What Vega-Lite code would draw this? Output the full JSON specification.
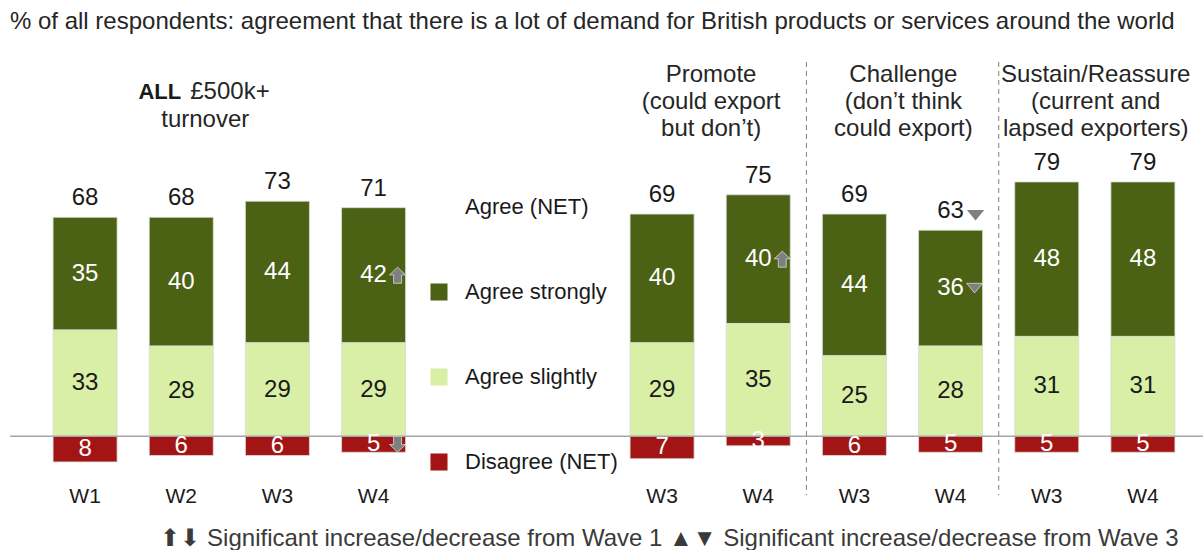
{
  "$schema": "https://vega.github.io/schema/vega-lite/v6.json",
  "width": 1154,
  "height": 428,
  "padding": {"left": 37, "top": 50, "right": 12, "bottom": 72},
  "autosize": {"type": "none"},
  "background": "white",
  "title": {
    "text": "% of all respondents: agreement that there is a lot of demand for British products or services around the world",
    "anchor": "start",
    "frame": "group",
    "dx": -27,
    "offset": -3,
    "baseline": "alphabetic",
    "fontSize": 24,
    "fontWeight": "normal",
    "font": "Liberation Sans",
    "color": "#262626"
  },
  "config": {
    "view": {"stroke": null},
    "font": "Liberation Sans",
    "text": {"font": "Liberation Sans"},
    "axisX": {
      "orient": "bottom",
      "title": "⬆⬇ Significant increase/decrease  from Wave 1  ▲▼ Significant increase/decrease  from Wave 3",
      "labelExpr": "indexof(datum.value, 'gap') >= 0 ? '' : slice(datum.value, -2)",
      "domain": false,
      "ticks": false,
      "grid": false,
      "labelAngle": 0,
      "labelFontSize": 21,
      "labelFont": "Liberation Sans",
      "labelColor": "#1a1a1a",
      "labelPadding": 7,
      "titleFont": "Liberation Sans",
      "titleFontSize": 24,
      "titleFontWeight": "normal",
      "titleColor": "#3a3a3a",
      "titleX": 632,
      "titleY": 60,
      "titleAlign": "center",
      "titleBaseline": "middle"
    }
  },
  "datasets": {
    "bars": [
      {"slot": "ALL W1", "category": "Agree strongly", "value": 35, "net": 68},
      {"slot": "ALL W1", "category": "Agree slightly", "value": 33},
      {"slot": "ALL W1", "category": "Disagree (NET)", "value": -8},
      {"slot": "ALL W2", "category": "Agree strongly", "value": 40, "net": 68},
      {"slot": "ALL W2", "category": "Agree slightly", "value": 28},
      {"slot": "ALL W2", "category": "Disagree (NET)", "value": -6},
      {"slot": "ALL W3", "category": "Agree strongly", "value": 44, "net": 73},
      {"slot": "ALL W3", "category": "Agree slightly", "value": 29},
      {"slot": "ALL W3", "category": "Disagree (NET)", "value": -6},
      {"slot": "ALL W4", "category": "Agree strongly", "value": 42, "net": 71, "sig": "up1"},
      {"slot": "ALL W4", "category": "Agree slightly", "value": 29},
      {"slot": "ALL W4", "category": "Disagree (NET)", "value": -5, "sig": "down1"},
      {"slot": "Promote W3", "category": "Agree strongly", "value": 40, "net": 69},
      {"slot": "Promote W3", "category": "Agree slightly", "value": 29},
      {"slot": "Promote W3", "category": "Disagree (NET)", "value": -7},
      {"slot": "Promote W4", "category": "Agree strongly", "value": 40, "net": 75, "sig": "up1"},
      {"slot": "Promote W4", "category": "Agree slightly", "value": 35},
      {"slot": "Promote W4", "category": "Disagree (NET)", "value": -3},
      {"slot": "Challenge W3", "category": "Agree strongly", "value": 44, "net": 69},
      {"slot": "Challenge W3", "category": "Agree slightly", "value": 25},
      {"slot": "Challenge W3", "category": "Disagree (NET)", "value": -6},
      {"slot": "Challenge W4", "category": "Agree strongly", "value": 36, "net": 63, "sig": "down3", "netSig": "down3"},
      {"slot": "Challenge W4", "category": "Agree slightly", "value": 28},
      {"slot": "Challenge W4", "category": "Disagree (NET)", "value": -5},
      {"slot": "Sustain W3", "category": "Agree strongly", "value": 48, "net": 79},
      {"slot": "Sustain W3", "category": "Agree slightly", "value": 31},
      {"slot": "Sustain W3", "category": "Disagree (NET)", "value": -5},
      {"slot": "Sustain W4", "category": "Agree strongly", "value": 48, "net": 79},
      {"slot": "Sustain W4", "category": "Agree slightly", "value": 31},
      {"slot": "Sustain W4", "category": "Disagree (NET)", "value": -5}
    ]
  },
  "layer": [
    {
      "data": {"name": "bars"},
      "transform": [
        {"stack": "value", "groupby": ["slot"], "sort": [{"field": "category", "order": "ascending"}], "as": ["y0", "y1"]}
      ],
      "mark": {"type": "bar", "stroke": "#d9d9d9", "strokeWidth": 0.8},
      "encoding": {
        "x": {"field": "slot", "type": "nominal",
          "scale": {"domain": ["ALL W1", "ALL W2", "ALL W3", "ALL W4", "gap1", "gap2", "Promote W3", "Promote W4", "Challenge W3", "Challenge W4", "Sustain W3", "Sustain W4"], "paddingInner": 0.3345, "paddingOuter": 0.16725},
          "title": "⬆⬇ Significant increase/decrease  from Wave 1  ▲▼ Significant increase/decrease  from Wave 3"
        },
        "y": {"field": "y0", "type": "quantitative", "axis": null, "scale": {"domain": [-13, 120], "nice": false, "zero": false}},
        "y2": {"field": "y1"},
        "color": {
          "field": "category",
          "type": "nominal",
          "scale": {
            "domain": ["Agree (NET)", "Agree strongly", "Agree slightly", "Disagree (NET)"],
            "range": ["transparent", "#4b6114", "#d8efa5", "#a31515"]
          },
          "legend": {
            "title": null,
            "orient": "none",
            "legendX": 391,
            "legendY": 146,
            "padding": 0,
            "symbolType": "square",
            "symbolSize": 290,
            "symbolStrokeWidth": 0,
            "symbolOpacity": 1,
            "labelFont": "Liberation Sans",
            "labelFontSize": 22,
            "labelColor": "#1a1a1a",
            "labelOffset": 15,
            "rowPadding": 63
          }
        }
      }
    },
    {
      "data": {"values": [{}]},
      "mark": {"type": "rule", "color": "#a6a6a6", "strokeWidth": 1.5, "xOffset": -75, "x2Offset": 60},
      "encoding": {
        "x": {"datum": "ALL W1", "type": "nominal"},
        "x2": {"datum": "Sustain W4"},
        "y": {"datum": 0, "type": "quantitative", "axis": null}
      }
    },
    {
      "data": {"values": [{"sep": "Challenge W3"}, {"sep": "Sustain W3"}]},
      "mark": {"type": "rule", "color": "#7f7f7f", "strokeWidth": 1, "strokeDash": [5, 4], "xOffset": -48},
      "encoding": {
        "x": {"field": "sep", "type": "nominal"},
        "y": {"datum": 116.3, "type": "quantitative", "axis": null},
        "y2": {"datum": -18.3}
      }
    },
    {
      "data": {"name": "bars"},
      "transform": [
        {"stack": "value", "groupby": ["slot"], "sort": [{"field": "category", "order": "ascending"}], "as": ["y0", "y1"]},
        {"calculate": "(datum.y0 + datum.y1) / 2", "as": "mid"},
        {"calculate": "abs(datum.value)", "as": "lab"}
      ],
      "mark": {"type": "text", "fontSize": 24, "baseline": "middle", "align": "center"},
      "encoding": {
        "x": {"field": "slot", "type": "nominal"},
        "y": {"field": "mid", "type": "quantitative", "axis": null},
        "text": {"field": "lab", "type": "quantitative"},
        "color": {"condition": {"test": "datum.category === 'Agree slightly'", "value": "#1a1a1a"}, "value": "#ffffff"}
      }
    },
    {
      "data": {"name": "bars"},
      "transform": [
        {"stack": "value", "groupby": ["slot"], "sort": [{"field": "category", "order": "ascending"}], "as": ["y0", "y1"]},
        {"filter": "datum.category === 'Agree strongly'"}
      ],
      "mark": {"type": "text", "fontSize": 24, "baseline": "middle", "align": "center", "dy": -19, "color": "#1a1a1a"},
      "encoding": {
        "x": {"field": "slot", "type": "nominal"},
        "y": {"field": "y1", "type": "quantitative", "axis": null},
        "text": {"field": "net", "type": "quantitative"}
      }
    },
    {
      "data": {"name": "bars"},
      "transform": [
        {"stack": "value", "groupby": ["slot"], "sort": [{"field": "category", "order": "ascending"}], "as": ["y0", "y1"]},
        {"calculate": "(datum.y0 + datum.y1) / 2", "as": "mid"},
        {"filter": "isValid(datum.sig)"}
      ],
      "mark": {"type": "point", "filled": true, "color": "#7f7f7f", "opacity": 1, "size": 256, "xOffset": 24, "stroke": "#d9d9d9", "strokeWidth": 0.8},
      "encoding": {
        "x": {"field": "slot", "type": "nominal"},
        "y": {"field": "mid", "type": "quantitative", "axis": null},
        "shape": {"field": "sig", "type": "nominal", "legend": null,
          "scale": {"domain": ["up1", "down1", "down3"], "range": ["M0,-1L1,-0.05L0.5,-0.05L0.5,1L-0.5,1L-0.5,-0.05L-1,-0.05Z", "M0,1L1,0.05L0.5,0.05L0.5,-1L-0.5,-1L-0.5,0.05L-1,0.05Z", "M-1,-0.6L1,-0.6L0,0.6Z"]}}
      }
    },
    {
      "data": {"name": "bars"},
      "transform": [
        {"stack": "value", "groupby": ["slot"], "sort": [{"field": "category", "order": "ascending"}], "as": ["y0", "y1"]},
        {"filter": "isValid(datum.netSig)"}
      ],
      "mark": {"type": "point", "filled": true, "color": "#7f7f7f", "opacity": 1, "size": 300, "xOffset": 25, "yOffset": -15},
      "encoding": {
        "x": {"field": "slot", "type": "nominal"},
        "y": {"field": "y1", "type": "quantitative", "axis": null},
        "shape": {"field": "netSig", "type": "nominal", "legend": null,
          "scale": {"domain": ["up1", "down1", "down3"], "range": ["M0,-1L1,-0.05L0.5,-0.05L0.5,1L-0.5,1L-0.5,-0.05L-1,-0.05Z", "M0,1L1,0.05L0.5,0.05L0.5,-1L-0.5,-1L-0.5,0.05L-1,0.05Z", "M-1,-0.6L1,-0.6L0,0.6Z"]}}
      }
    },
    {
      "data": {"values": [
        {"anchor": "Promote W3", "lines": ["Promote", "(could export", "but don’t)"]},
        {"anchor": "Challenge W3", "lines": ["Challenge", "(don’t think", "could export)"]},
        {"anchor": "Sustain W3", "lines": ["Sustain/Reassure", "(current and", "lapsed exporters)"]}
      ]},
      "mark": {"type": "text", "fontSize": 24, "lineHeight": 27, "baseline": "middle", "align": "center", "dx": 49, "color": "#262626"},
      "encoding": {
        "x": {"field": "anchor", "type": "nominal"},
        "y": {"datum": 112.2, "type": "quantitative", "axis": null},
        "text": {"field": "lines"}
      }
    },
    {
      "data": {"values": [{"anchor": "ALL W2", "t": "ALL"}]},
      "mark": {"type": "text", "fontSize": 22, "fontWeight": "bold", "baseline": "middle", "align": "right", "dx": 0, "color": "#1a1a1a"},
      "encoding": {
        "x": {"field": "anchor", "type": "nominal"},
        "y": {"datum": 106.95, "type": "quantitative", "axis": null},
        "text": {"field": "t"}
      }
    },
    {
      "data": {"values": [{"anchor": "ALL W2", "t": "£500k+"}]},
      "mark": {"type": "text", "fontSize": 24, "baseline": "middle", "align": "left", "dx": 9, "color": "#262626"},
      "encoding": {
        "x": {"field": "anchor", "type": "nominal"},
        "y": {"datum": 106.95, "type": "quantitative", "axis": null},
        "text": {"field": "t"}
      }
    },
    {
      "data": {"values": [{"anchor": "ALL W2", "t": "turnover"}]},
      "mark": {"type": "text", "fontSize": 24, "baseline": "middle", "align": "center", "dx": 24, "color": "#262626"},
      "encoding": {
        "x": {"field": "anchor", "type": "nominal"},
        "y": {"datum": 98.25, "type": "quantitative", "axis": null},
        "text": {"field": "t"}
      }
    }
  ]
}
